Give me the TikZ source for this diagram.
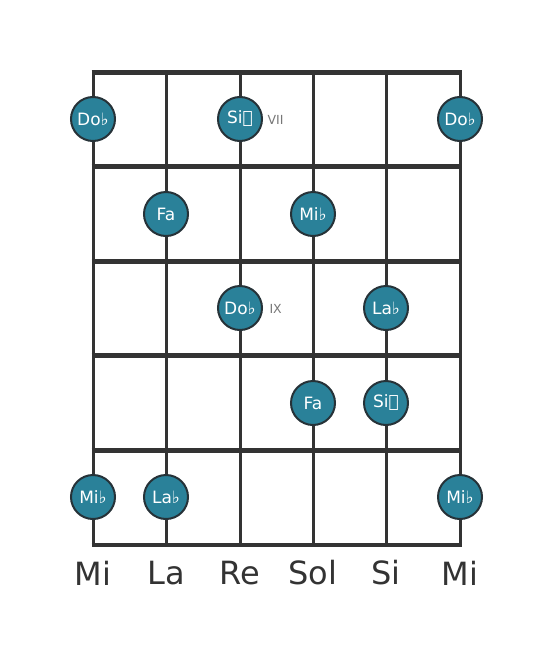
\documentclass[tikz,border=0pt]{standalone}
\usepackage{fontspec}
\setmainfont{DejaVu Sans}
\definecolor{lineC}{HTML}{333333}
\definecolor{noteC}{HTML}{2A8199}
\definecolor{noteB}{HTML}{263238}
\definecolor{lblC}{HTML}{777777}
\tikzset{
  strg/.style={line width=3pt, draw=lineC},
  fret/.style={line width=5pt, draw=lineC},
  note/.style={circle, minimum size=44pt, inner sep=0pt, fill=noteC, draw=noteB, line width=2pt, text=white, font=\fontsize{17}{17}\selectfont},
  intv/.style={text=lblC, font=\fontsize{12.5}{12.5}\selectfont, anchor=west},
  sname/.style={text=lineC, font=\fontsize{32}{32}\selectfont}
}
\begin{document}
\begin{tikzpicture}[x=1pt,y=-1pt]
\useasboundingbox (0,0) rectangle (553,656);
\foreach \i/\x in {1/93,2/166,3/240,4/313,5/386,6/460}{
  \coordinate (t\i) at (\x,72);
  \coordinate (b\i) at (\x,545);
}
\foreach \i in {1,...,6}{ \draw[strg] (t\i) -- (b\i); }
\foreach \j/\y in {0/72,1/166,2/261,3/355,4/450}{
  \coordinate (fl\j) at (93,\y);
  \coordinate (fr\j) at (460,\y);
  \draw[fret] ([xshift=-1.5pt]fl\j) -- ([xshift=1.5pt]fr\j);
}
\coordinate (fl5) at (93,545);
\coordinate (fr5) at (460,545);
\draw[line width=4pt, draw=lineC] ([xshift=-1.5pt]fl5) -- ([xshift=1.5pt]fr5);
% notes
\node[note] (n1) at (93,119) {Do♭};
\node[note] (n2) at (240,119) {Si𝄫};
\node[intv] (l1) at (264,120) {VII};
\node[note] (n3) at (460,119) {Do♭};
\node[note] (n4) at (166,214) {Fa};
\node[note] (n5) at (313,214) {Mi♭};
\node[note] (n6) at (240,308) {Do♭};
\node[intv] (l2) at (266,309) {IX};
\node[note] (n7) at (386,308) {La♭};
\node[note] (n8) at (313,403) {Fa};
\node[note] (n9) at (386,403) {Si𝄫};
\node[note] (n10) at (93,497) {Mi♭};
\node[note] (n11) at (166,497) {La♭};
\node[note] (n12) at (460,497) {Mi♭};
% string names
\foreach \x/\t [count=\k] in {93/Mi,166/La,240/Re,313/Sol,386/Si,460/Mi}{
  \node[sname] (s\k) at (\x,573) {\t};
}
\end{tikzpicture}
\end{document}
